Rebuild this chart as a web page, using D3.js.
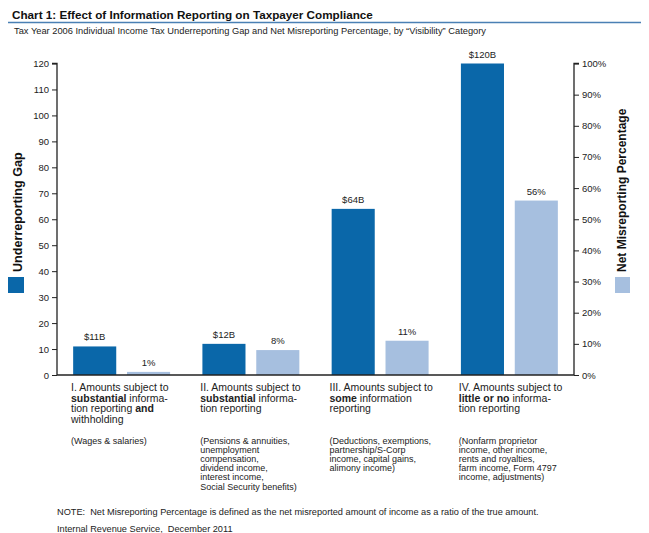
<!DOCTYPE html>
<html><head><meta charset="utf-8">
<script src="https://cdn.jsdelivr.net/npm/d3@7"></script>
<style>
body{margin:0;background:#fff;}
svg{display:block;font-family:"Liberation Sans",Arial,sans-serif;}
text{white-space:pre;}
</style></head><body>
<svg id="c" width="649" height="533"></svg>
<script>
const categories = ["I","II","III","IV"];
const gapValues = [11, 12, 64, 120];
const pctValues = [1, 8, 11, 56];
const gapLabels = ["$11B", "$12B", "$64B", "$120B"];
const pctLabels = ["1%", "8%", "11%", "56%"];
const gapTicks = [0,10,20,30,40,50,60,70,80,90,100,110,120];
const pctTicks = [0,10,20,30,40,50,60,70,80,90,100];
// label lines: each line is a list of [text, bold]
const categoryLines = [
  [[["I. Amounts subject to",0]],[["substantial",1],[" informa-",0]],[["tion reporting ",0],["and",1]],[["withholding",0]]],
  [[["II. Amounts subject to",0]],[["substantial",1],[" informa-",0]],[["tion reporting",0]]],
  [[["III. Amounts subject to",0]],[["some",1],[" information",0]],[["reporting",0]]],
  [[["IV. Amounts subject to",0]],[["little or no",1],[" informa-",0]],[["tion reporting",0]]]
];
const categoryDetails = [
  ["(Wages & salaries)"],
  ["(Pensions & annuities,","unemployment","compensation,","dividend income,","interest income,","Social Security benefits)"],
  ["(Deductions, exemptions,","partnership/S-Corp","income, capital gains,","alimony income)"],
  ["(Nonfarm proprietor","income, other income,","rents and royalties,","farm income, Form 4797","income, adjustments)"]
];
const seriesKeys = ["gap","pct"];
const titleText = "Chart 1: Effect of Information Reporting on Taxpayer Compliance";
const subtitleText = "Tax Year 2006 Individual Income Tax Underreporting Gap and Net Misreporting Percentage, by \u201CVisibility\u201D Category";
const leftTitle = "Underreporting Gap";
const rightTitle = "Net Misreporting Percentage";
const noteLines = ["NOTE:  Net Misreporting Percentage is defined as the net misreported amount of income as a ratio of the true amount.",
                   "Internal Revenue Service,  December 2011"];

const DARK = "#0a67a9", LIGHT = "#a6bfdf", TXT = "#222";
const svg = d3.select("#c");
const L = 57, R = 574, T = 63.5, B = 375;

// Title
svg.append("text").attr("x",12).attr("y",19).attr("font-size",11.7).attr("font-weight","bold").attr("fill","#111").text(titleText);
svg.append("line").attr("x1",8).attr("x2",641).attr("y1",22.5).attr("y2",22.5).attr("stroke","#4a80b4").attr("stroke-width",1.6);
svg.append("text").attr("x",14).attr("y",34).attr("font-size",9.3).attr("fill",TXT).text(subtitleText);

const x0 = d3.scaleBand().domain(categories).range([L,R]).paddingInner(0).paddingOuter(0);
const x1 = d3.scaleBand().domain(seriesKeys).range([0,x0.bandwidth()]).paddingInner(0.2).paddingOuter(0.3);
const yL = d3.scaleLinear().domain([0,120]).range([B,T]);
const yR = d3.scaleLinear().domain([0,100]).range([B,T]);

// bars
const g = svg.append("g");
categories.forEach((c,i)=>{
  g.append("rect").attr("x",x0(c)+x1("gap")).attr("width",x1.bandwidth())
    .attr("y",yL(gapValues[i])).attr("height",B-yL(gapValues[i])).attr("fill",DARK);
  g.append("rect").attr("x",x0(c)+x1("pct")).attr("width",x1.bandwidth())
    .attr("y",yR(pctValues[i])).attr("height",B-yR(pctValues[i])).attr("fill",LIGHT);
  g.append("text").attr("x",x0(c)+x1("gap")+x1.bandwidth()/2).attr("y",yL(gapValues[i])-6)
    .attr("text-anchor","middle").attr("font-size",9.5).attr("fill",TXT).text(gapLabels[i]);
  g.append("text").attr("x",x0(c)+x1("pct")+x1.bandwidth()/2).attr("y",yR(pctValues[i])-6)
    .attr("text-anchor","middle").attr("font-size",9.5).attr("fill",TXT).text(pctLabels[i]);
});

// axes
const axL = svg.append("g").attr("transform",`translate(${L},0)`)
  .call(d3.axisLeft(yL).tickValues(gapTicks).tickSize(5).tickPadding(3));
const axR = svg.append("g").attr("transform",`translate(${R},0)`)
  .call(d3.axisRight(yR).tickValues(pctTicks).tickSize(5).tickPadding(3).tickFormat(d=>d+"%"));
[axL,axR].forEach(a=>{
  a.select(".domain").attr("stroke","#222").attr("stroke-width",1.3).attr("d", a===axL?`M-5,${T}H0V${B}`:`M5,${T}H0V${B}`);
  a.selectAll(".tick line").attr("stroke","#222");
  a.selectAll(".tick text").attr("font-size",9.5).attr("fill",TXT).attr("font-family","Liberation Sans, Arial, sans-serif");
});
svg.append("line").attr("x1",L).attr("x2",R).attr("y1",B).attr("y2",B).attr("stroke","#222").attr("stroke-width",1.3);

// axis titles and legend swatches
svg.append("text").attr("transform",`translate(22,272) rotate(-90)`).attr("font-size",12.6).attr("font-weight","bold").attr("fill","#111").text(leftTitle);
svg.append("rect").attr("x",8).attr("y",277).attr("width",16).attr("height",16).attr("fill",DARK);
svg.append("text").attr("transform",`translate(625.5,272) rotate(-90)`).attr("font-size",12).attr("font-weight","bold").attr("fill","#111").text(rightTitle);
svg.append("rect").attr("x",615).attr("y",277).attr("width",15).attr("height",16).attr("fill",LIGHT);

// category labels
categories.forEach((c,i)=>{
  const lx = x0(c)+14;
  const t = svg.append("text").attr("font-size",10.5).attr("fill",TXT);
  categoryLines[i].forEach((line,j)=>{
    line.forEach((seg,k)=>{
      const ts = t.append("tspan").text(seg[0]).attr("font-weight",seg[1]?"bold":"normal");
      if(k===0) ts.attr("x",lx).attr("y",391+j*10.7);
    });
  });
  const d = svg.append("text").attr("font-size",9).attr("fill",TXT);
  categoryDetails[i].forEach((line,j)=>{
    d.append("tspan").attr("x",lx).attr("y",443.5+j*9.2).text(line);
  });
});

// notes
noteLines.forEach((s,i)=>{
  svg.append("text").attr("x",57).attr("y",514.5+i*17).attr("font-size",9.2).attr("fill",TXT).text(s);
});
</script>
</body></html>
